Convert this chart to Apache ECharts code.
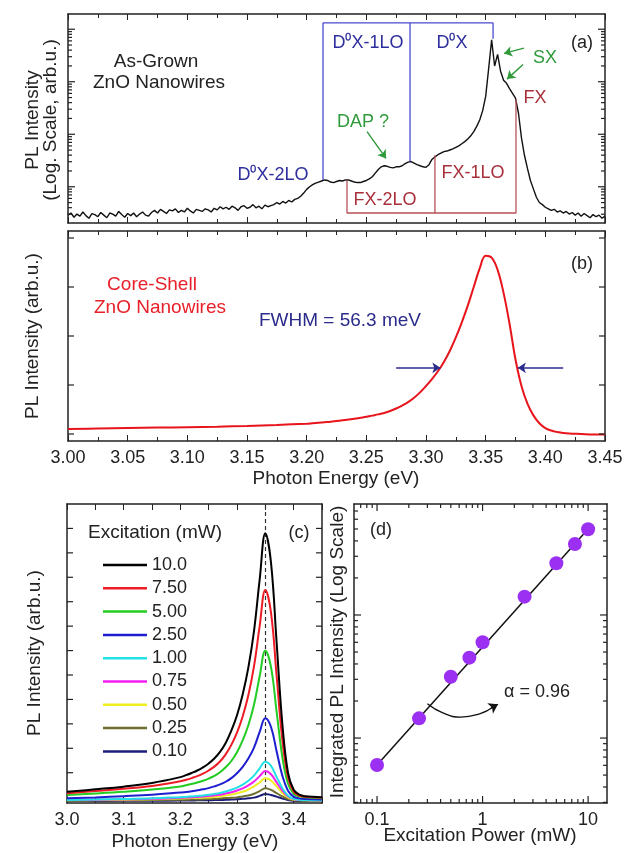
<!DOCTYPE html>
<html>
<head>
<meta charset="utf-8">
<script src="https://cdn.jsdelivr.net/npm/echarts@6/dist/echarts.min.js"></script>
<style>
html, body { margin: 0; padding: 0; background: #fff; }
#chart { width: 627px; height: 853px; }
</style>
</head>
<body>
<div id="chart"></div>
<script>
// (a) as-grown nanowires: log10 of PL intensity, one reading every 2.5 meV from 3.000 eV
var asGrownStart = 3.0;
var asGrownStep = 0.0025;
var asGrownLog = [
  0.46, 0.50, 0.42, 0.48, 0.44, 0.52, 0.45, 0.40, 0.49, 0.47,
  0.43, 0.51, 0.46, 0.41, 0.50, 0.48, 0.44, 0.53, 0.47, 0.42,
  0.49, 0.45, 0.50, 0.43, 0.48, 0.52, 0.46, 0.44, 0.51,
  0.55, 0.50, 0.57, 0.53, 0.49, 0.56, 0.54, 0.58, 0.51, 0.55,
  0.52, 0.59, 0.54, 0.50, 0.57, 0.55, 0.53, 0.58, 0.56, 0.52,
  0.59, 0.56, 0.62, 0.58, 0.61, 0.57, 0.63, 0.60, 0.55, 0.62,
  0.64, 0.59, 0.61, 0.66, 0.60, 0.63, 0.58, 0.65, 0.62, 0.64,
  0.66, 0.70, 0.67, 0.72, 0.69, 0.74, 0.71, 0.76, 0.78,
  0.82, 0.88, 0.95, 1.00, 1.04, 1.07, 1.09, 1.11, 1.13,
  1.12, 1.09, 1.08, 1.10, 1.12, 1.11, 1.13, 1.13, 1.11, 1.09, 1.08, 1.08, 1.10, 1.12,
  1.15, 1.19, 1.26, 1.33, 1.38, 1.40, 1.39, 1.37, 1.36, 1.38,
  1.38, 1.40, 1.44, 1.47, 1.48, 1.45, 1.42, 1.40, 1.38, 1.37,
  1.42, 1.52, 1.57, 1.61, 1.64, 1.67, 1.68, 1.70, 1.72, 1.75,
  1.78, 1.82, 1.86, 1.91, 1.97, 2.05, 2.15, 2.27, 2.45, 2.72,
  3.25, 3.80, 3.30, 3.52, 3.20, 3.03, 2.97, 2.87, 2.78, 2.69,
  2.40, 1.93, 1.60, 1.35, 1.12, 0.96, 0.80, 0.70, 0.66, 0.61,
  0.58, 0.55, 0.57, 0.52, 0.54, 0.50, 0.53, 0.48, 0.51, 0.46,
  0.50, 0.44, 0.49, 0.45, 0.41, 0.47, 0.43, 0.46, 0.40, 0.44
];

// phonon replica lines in (a): energies and where each line meets the spectrum
var d0xLines = [3.2137, 3.2866, 3.3562];
var d0xFoot = [1.13, 1.48, 3.82];
var d0xTop = 4.12;
var fxLines = [3.2338, 3.3075, 3.3754];
var fxFoot = [1.12, 1.60, 2.66];
var fxBottom = 0.50;

// (b) core-shell nanowires
var coreShellE = [3.00, 3.025, 3.05, 3.075, 3.10, 3.125, 3.15, 3.175,
  3.20, 3.205, 3.21, 3.215, 3.22, 3.225, 3.23, 3.235, 3.24, 3.245,
  3.25, 3.255, 3.26, 3.265, 3.27, 3.275, 3.28, 3.285, 3.29, 3.295,
  3.30, 3.305, 3.31, 3.315, 3.32, 3.325, 3.33, 3.335, 3.34, 3.345,
  3.35, 3.355, 3.36, 3.365, 3.37, 3.375, 3.38, 3.385, 3.39, 3.395,
  3.40, 3.405, 3.41, 3.415, 3.42, 3.43, 3.44, 3.45];
var coreShellI = [0.10, 0.11, 0.12, 0.13, 0.14, 0.15, 0.165, 0.185,
  0.21, 0.22, 0.23, 0.24, 0.25, 0.265, 0.28, 0.295, 0.31, 0.33,
  0.35, 0.375, 0.40, 0.43, 0.47, 0.52, 0.58, 0.65, 0.74, 0.85,
  0.98, 1.12, 1.28, 1.47, 1.70, 1.97, 2.28, 2.62, 3.00, 3.38,
  3.64, 3.60, 3.35, 2.88, 2.25, 1.52, 0.98, 0.62, 0.38, 0.22,
  0.12, 0.07, 0.04, 0.02, 0.01, 0.00, -0.01, -0.01];
var fwhmLevel = 1.35;

// (c) power dependent spectra
var powerE = [3.00, 3.05, 3.10, 3.15, 3.20, 3.21, 3.22, 3.23, 3.24, 3.25, 3.26, 3.27, 3.28, 3.29,
  3.30, 3.31, 3.32, 3.33, 3.34, 3.35, 3.36, 3.37, 3.38, 3.39, 3.40, 3.41, 3.42, 3.45];
var powerNames = ['10.0', '7.50', '5.00', '2.50', '1.00', '0.75', '0.50', '0.25', '0.10'];
var powerColors = ['#000000', '#ee1c24', '#22cc22', '#1f1fd0', '#22e0e6', '#f21ef2', '#eeee22', '#6e6e30', '#1c1c7a'];
var pl100 = [0.22, 0.32, 0.43, 0.58, 0.82, 0.90, 0.99, 1.09, 1.22, 1.38, 1.58, 1.85, 2.22, 2.72,
  3.35, 4.20, 5.30, 6.80, 8.90, 10.8, 9.60, 6.30, 3.00, 1.00, 0.30, 0.10, 0.04, 0.00];
var pl75 = [0.16, 0.25, 0.34, 0.46, 0.65, 0.71, 0.78, 0.86, 0.96, 1.09, 1.25, 1.46, 1.75, 2.14,
  2.64, 3.30, 4.17, 5.35, 7.00, 8.48, 7.55, 4.95, 2.35, 0.80, 0.22, 0.06, 0.02, -0.02];
var pl50 = [0.09, 0.15, 0.22, 0.31, 0.44, 0.49, 0.54, 0.60, 0.67, 0.76, 0.87, 1.02, 1.22, 1.48,
  1.84, 2.32, 2.94, 3.78, 4.95, 5.99, 5.32, 3.48, 1.65, 0.55, 0.14, 0.03, 0.00, -0.05];
var pl25 = [-0.05, -0.01, 0.04, 0.10, 0.19, 0.21, 0.24, 0.28, 0.32, 0.37, 0.44, 0.52, 0.63, 0.78,
  0.98, 1.24, 1.58, 2.03, 2.67, 3.23, 2.87, 1.87, 0.88, 0.26, 0.02, -0.05, -0.08, -0.10];
var pl10 = [-0.12, -0.10, -0.08, -0.05, 0.00, 0.01, 0.03, 0.05, 0.07, 0.10, 0.13, 0.17, 0.23, 0.30,
  0.39, 0.51, 0.67, 0.88, 1.18, 1.45, 1.28, 0.82, 0.37, 0.06, -0.07, -0.11, -0.12, -0.13];
var pl075 = [-0.12, -0.11, -0.09, -0.07, -0.03, -0.02, -0.01, 0.01, 0.03, 0.05, 0.07, 0.10, 0.15, 0.20,
  0.27, 0.36, 0.48, 0.64, 0.86, 1.07, 0.94, 0.60, 0.27, 0.03, -0.08, -0.11, -0.12, -0.13];
var pl050 = [-0.13, -0.12, -0.11, -0.09, -0.06, -0.05, -0.04, -0.03, -0.02, -0.01, 0.01, 0.04, 0.07, 0.11,
  0.16, 0.22, 0.31, 0.44, 0.60, 0.77, 0.68, 0.43, 0.17, -0.01, -0.10, -0.12, -0.13, -0.14];
var pl025 = [-0.14, -0.14, -0.13, -0.12, -0.11, -0.11, -0.10, -0.10, -0.09, -0.08, -0.07, -0.06, -0.04, -0.03,
  -0.01, 0.03, 0.07, 0.14, 0.25, 0.36, 0.30, 0.16, 0.03, -0.08, -0.12, -0.14, -0.14, -0.15];
var pl010 = [-0.16, -0.16, -0.15, -0.15, -0.14, -0.14, -0.14, -0.13, -0.13, -0.13, -0.12, -0.12, -0.11, -0.10,
  -0.09, -0.07, -0.05, -0.02, 0.05, 0.13, 0.09, 0.02, -0.06, -0.12, -0.15, -0.16, -0.16, -0.16];
var powerSpectra = [pl100, pl75, pl50, pl25, pl10, pl075, pl050, pl025, pl010];

// (d) integrated intensity vs power
var powerMw = [0.1, 0.25, 0.5, 0.75, 1, 2.5, 5, 7.5, 10];
var integratedPl = [60300, 144500, 315000, 450000, 600000, 1410000, 2630000, 3780000, 4980000];
var fitPower = [0.1, 10];
var fitPl = [60500, 5000000];
// curved pointer from the fit line to the slope label
var slopeArcX = [0.30, 0.42, 0.62, 0.95, 1.25];
var slopeArcY = [190000, 160000, 148000, 158000, 178000];

var ink = '#222';
var font = '"Liberation Sans", Arial, sans-serif';

function zip(a, b) {
  var out = [];
  for (var i = 0; i < a.length; i++) out.push([a[i], b[i]]);
  return out;
}

var asGrownData = [];
for (var i = 0; i < asGrownLog.length; i++) {
  asGrownData.push([asGrownStart + i * asGrownStep, asGrownLog[i]]);
}

// tick marks drawn inside the frame on both sides (log axes and offset linear ticks)
function frameTicks(xi, yi, dim, values, len, xr, yr) {
  return {
    type: 'custom', xAxisIndex: xi, yAxisIndex: yi, silent: true, z: 10, clip: false,
    data: values.map(function (v) { return dim === 'y' ? [xr[0], v] : [v, yr[0]]; }),
    renderItem: function (params, api) {
      var s = { stroke: ink, lineWidth: 1.2 };
      var p, q;
      if (dim === 'y') {
        var v = api.value(1);
        p = api.coord([xr[0], v]);
        q = api.coord([xr[1], v]);
        return { type: 'group', children: [
          { type: 'line', shape: { x1: p[0], y1: p[1], x2: p[0] + len, y2: p[1] }, style: s },
          { type: 'line', shape: { x1: q[0], y1: q[1], x2: q[0] - len, y2: q[1] }, style: s }
        ] };
      }
      var u = api.value(0);
      p = api.coord([u, yr[0]]);
      q = api.coord([u, yr[1]]);
      return { type: 'group', children: [
        { type: 'line', shape: { x1: p[0], y1: p[1], x2: p[0], y2: p[1] - len }, style: s },
        { type: 'line', shape: { x1: q[0], y1: q[1], x2: q[0], y2: q[1] + len }, style: s }
      ] };
    }
  };
}

function logMinor(lo, hi) {
  var out = [];
  for (var n = -3; n <= 8; n++) {
    for (var k = 2; k <= 9; k++) {
      var v = k * Math.pow(10, n);
      if (v > lo && v < hi) out.push(v);
    }
  }
  return out;
}

var aRange = [0.31, 4.29];
var aMinor = [];
for (var n = 0; n <= 4; n++) {
  for (var k = 2; k <= 9; k++) {
    var lv = n + Math.log10(k);
    if (lv > aRange[0] && lv < aRange[1]) aMinor.push(lv);
  }
}
var dX = [0.0605, 15.1];
var dY = [29650, 7980000];

function txt(x, y, s, color, size, rot) {
  return {
    type: 'text', x: x, y: y, rotation: rot || 0, silent: true,
    style: {
      text: s, fill: color || ink, font: (size || 18) + 'px ' + font,
      align: 'center', verticalAlign: 'middle', textAlign: 'center', textVerticalAlign: 'middle'
    }
  };
}

var blue = '#2e2e9e', blueLine = '#4a4ad0', green = '#2f9a3a', brick = '#a8303a', brickLine = '#b8505a';

function linAxis(grid, pos, min, max, interval, labels, fmt) {
  return {
    type: 'value', gridIndex: grid, position: pos, min: min, max: max, interval: interval,
    axisLine: { show: true, onZero: false, lineStyle: { color: ink, width: 1.5 } },
    axisTick: { show: true, inside: true, length: 6, lineStyle: { color: ink } },
    minorTick: { show: fmt !== 'c', splitNumber: 2, length: 4, lineStyle: { color: ink } },
    axisLabel: { show: labels, color: ink, fontSize: 18, fontFamily: font, margin: 8,
      formatter: fmt === 'c'
        ? function (v) { return Math.abs(v * 10 - Math.round(v * 10)) < 1e-6 ? v.toFixed(1) : ''; }
        : function (v) { return v.toFixed(2); } },
    splitLine: { show: false }
  };
}

function plainY(grid, pos, min, max, type) {
  return {
    type: type || 'value', gridIndex: grid, position: pos, min: min, max: max,
    axisLine: { show: true, onZero: false, lineStyle: { color: ink, width: 1.5 } },
    axisTick: { show: false }, axisLabel: { show: false }, splitLine: { show: false }
  };
}

var series = [];

series.push({
  type: 'line', xAxisIndex: 0, yAxisIndex: 0, data: asGrownData, showSymbol: false, symbol: 'none',
  lineStyle: { color: '#111', width: 1.4 }, z: 3
});
series.push({
  type: 'line', xAxisIndex: 0, yAxisIndex: 0, symbol: 'none',
  data: [[d0xLines[0], d0xFoot[0]], [d0xLines[0], d0xTop], [d0xLines[2], d0xTop], [d0xLines[2], d0xFoot[2]]],
  lineStyle: { color: blueLine, width: 1.3 }
});
series.push({
  type: 'line', xAxisIndex: 0, yAxisIndex: 0, symbol: 'none',
  data: [[d0xLines[1], d0xTop], [d0xLines[1], d0xFoot[1]]],
  lineStyle: { color: blueLine, width: 1.3 },
  markLine: {
    silent: true, symbol: ['none', 'arrow'], symbolSize: 8, label: { show: false },
    lineStyle: { color: green, width: 1.4, type: 'solid' },
    data: [
      [{ coord: [3.2506, 2.05] }, { coord: [3.2665, 1.54] }],
      [{ coord: [3.3821, 3.64] }, { coord: [3.3654, 3.54] }],
      [{ coord: [3.3813, 3.33] }, { coord: [3.3679, 3.05] }]
    ]
  }
});
series.push({
  type: 'line', xAxisIndex: 0, yAxisIndex: 0, symbol: 'none',
  data: [[fxLines[0], fxFoot[0]], [fxLines[0], fxBottom], [fxLines[2], fxBottom], [fxLines[2], fxFoot[2]]],
  lineStyle: { color: brickLine, width: 1.3 }
});
series.push({
  type: 'line', xAxisIndex: 0, yAxisIndex: 0, symbol: 'none',
  data: [[fxLines[1], fxBottom], [fxLines[1], fxFoot[1]]],
  lineStyle: { color: brickLine, width: 1.3 }
});

series.push({
  type: 'line', xAxisIndex: 2, yAxisIndex: 2, data: zip(coreShellE, coreShellI), symbol: 'none',
  smooth: 0.4, lineStyle: { color: '#e8141c', width: 2 },
  markLine: {
    silent: true, symbol: ['none', 'arrow'], symbolSize: 8, label: { show: false },
    lineStyle: { color: '#2b2b8c', width: 1.5, type: 'solid' },
    data: [
      [{ coord: [3.275, fwhmLevel] }, { coord: [3.312, fwhmLevel] }],
      [{ coord: [3.415, fwhmLevel] }, { coord: [3.377, fwhmLevel] }]
    ]
  }
});

for (var s = 0; s < powerNames.length; s++) {
  var item = {
    name: powerNames[s], type: 'line', xAxisIndex: 4, yAxisIndex: 4,
    data: zip(powerE, powerSpectra[s]), symbol: 'none', smooth: 0.4,
    lineStyle: { color: powerColors[s], width: 2 }, itemStyle: { color: powerColors[s] },
    z: 3 + (powerNames.length - s)
  };
  if (s === 0) {
    item.markLine = {
      silent: true, symbol: 'none', label: { show: false },
      lineStyle: { color: '#333', width: 1.2, type: [4, 3] },
      data: [{ xAxis: 3.35 }]
    };
  }
  series.push(item);
}

series.push({
  type: 'line', xAxisIndex: 6, yAxisIndex: 6, data: zip(fitPower, fitPl), symbol: 'none',
  lineStyle: { color: '#111', width: 1.5 }, z: 3
});
series.push({
  type: 'line', xAxisIndex: 6, yAxisIndex: 6, data: zip(slopeArcX, slopeArcY), symbol: 'none',
  smooth: 0.5, lineStyle: { color: '#111', width: 1.3 }, z: 3,
  markLine: {
    silent: true, symbol: ['none', 'arrow'], symbolSize: 9, label: { show: false },
    lineStyle: { color: '#111', width: 1.3, type: 'solid' },
    data: [[{ coord: [1.2, 175000] }, { coord: [1.4, 188000] }]]
  }
});
series.push({
  type: 'scatter', xAxisIndex: 6, yAxisIndex: 6, data: zip(powerMw, integratedPl),
  symbolSize: 14, itemStyle: { color: '#9b30f2', opacity: 1 }, z: 5
});

series.push(frameTicks(0, 0, 'y', [1, 2, 3, 4], 7, [3, 3.45], aRange));
series.push(frameTicks(0, 0, 'y', aMinor, 4, [3, 3.45], aRange));
series.push(frameTicks(2, 2, 'y', [0, 1, 2, 3, 4], 6, [3, 3.45], [-0.143, 4.143]));
series.push(frameTicks(4, 4, 'y', [1, 2, 3, 4, 5, 6, 7, 8, 9, 10, 11], 6, [3, 3.45], [-0.24, 12]));
series.push(frameTicks(6, 6, 'y', [1e5, 1e6], 7, dX, dY));
series.push(frameTicks(6, 6, 'y', logMinor(dY[0], dY[1]), 4, dX, dY));
series.push(frameTicks(6, 6, 'x', [0.1, 1, 10], 7, dX, dY));
series.push(frameTicks(6, 6, 'x', logMinor(dX[0], dX[1]), 4, dX, dY));

var option = {
  animation: false,
  backgroundColor: '#fff',
  textStyle: { fontFamily: font },
  grid: [
    { left: 68, top: 14, width: 537, height: 209 },
    { left: 68, top: 231, width: 537, height: 210 },
    { left: 67, top: 504, width: 255, height: 299 },
    { left: 354, top: 504, width: 253, height: 299 }
  ],
  xAxis: [
    linAxis(0, 'bottom', 3, 3.45, 0.05, false),
    linAxis(0, 'top', 3, 3.45, 0.05, false),
    linAxis(1, 'bottom', 3, 3.45, 0.05, true),
    linAxis(1, 'top', 3, 3.45, 0.05, false),
    linAxis(2, 'bottom', 3, 3.45, 0.05, true, 'c'),
    linAxis(2, 'top', 3, 3.45, 0.05, false, 'c'),
    {
      type: 'log', gridIndex: 3, position: 'bottom', min: dX[0], max: dX[1],
      axisLine: { show: true, onZero: false, lineStyle: { color: ink, width: 1.5 } },
      axisTick: { show: false }, splitLine: { show: false },
      axisLabel: { color: ink, fontSize: 18, fontFamily: font, margin: 8, showMinLabel: false, showMaxLabel: false,
        formatter: function (v) { return String(+(+v).toPrecision(2)); } }
    },
    plainY(3, 'top', dX[0], dX[1], 'log')
  ],
  yAxis: [
    plainY(0, 'left', aRange[0], aRange[1]),
    plainY(0, 'right', aRange[0], aRange[1]),
    plainY(1, 'left', -0.143, 4.143),
    plainY(1, 'right', -0.143, 4.143),
    plainY(2, 'left', -0.24, 12),
    plainY(2, 'right', -0.24, 12),
    plainY(3, 'left', dY[0], dY[1], 'log'),
    plainY(3, 'right', dY[0], dY[1], 'log')
  ],
  legend: {
    data: powerNames, orient: 'vertical', left: 103, top: 556, padding: 0,
    icon: 'rect', itemWidth: 44, itemHeight: 2.5, itemGap: 5.3, selectedMode: false,
    textStyle: { color: ink, fontSize: 18, lineHeight: 18, fontFamily: font }
  },
  graphic: [
    txt(33, 120, 'PL Intensity', ink, 19, Math.PI / 2),
    txt(51, 120, '(Log. Scale, arb.u.)', ink, 19, Math.PI / 2),
    txt(156, 62, 'As-Grown', ink, 19),
    txt(159, 83, 'ZnO Nanowires', ink, 19),
    txt(582, 43, '(a)'),
    txt(273, 175, 'D\u2070X-2LO', blue),
    txt(368, 43, 'D\u2070X-1LO', blue),
    txt(452, 43, 'D\u2070X', blue),
    txt(363, 122, 'DAP ?', green),
    txt(545, 58, 'SX', green),
    txt(535, 98, 'FX', brick),
    txt(473, 173, 'FX-1LO', brick),
    txt(385, 200, 'FX-2LO', brick),

    txt(33, 336, 'PL Intensity (arb.u.)', ink, 19, Math.PI / 2),
    txt(582, 264, '(b)'),
    txt(152, 285, 'Core-Shell', '#e8202a', 19),
    txt(160, 308, 'ZnO Nanowires', '#e8202a', 19),
    txt(340, 321, 'FWHM = 56.3 meV', '#2b2b8c', 19),
    txt(336, 479, 'Photon Energy (eV)', ink, 19),

    txt(35, 653, 'PL Intensity (arb.u.)', ink, 19, Math.PI / 2),
    txt(155, 533, 'Excitation (mW)', ink, 19),
    txt(299, 533, '(c)'),
    txt(195, 842, 'Photon Energy (eV)', ink, 19),

    txt(338, 652, 'Integrated PL Intensity (Log Scale)', ink, 19, Math.PI / 2),
    txt(381, 530, '(d)'),
    txt(537, 692, '\u03b1 = 0.96'),
    txt(480, 836, 'Excitation Power (mW)', ink, 19)
  ],
  series: series
};

var chart = echarts.init(document.getElementById('chart'));
chart.setOption(option);
</script>
</body>
</html>
